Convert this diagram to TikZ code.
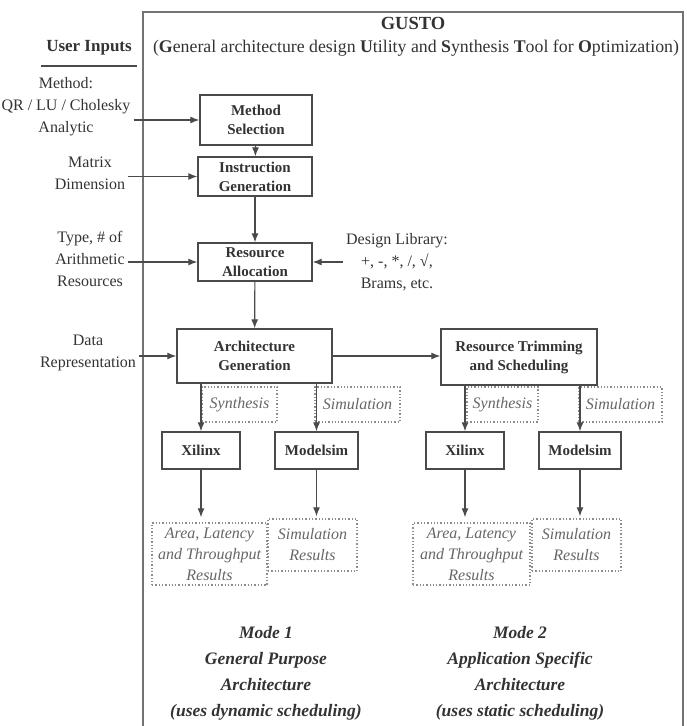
\documentclass[tikz,border=0pt]{standalone}
\usepackage{fontspec}
\setmainfont{Liberation Serif}
\usetikzlibrary{shapes,arrows.meta,positioning}
\definecolor{linegray}{HTML}{4A4A4A}
\definecolor{txtgray}{HTML}{333333}
\definecolor{dotgray}{HTML}{8C8C8C}
\tikzset{
  blk/.style={rectangle,draw=linegray,line width=1.3pt,inner sep=0pt,align=center,
    font=\fontsize{15}{19}\selectfont\bfseries,text=txtgray},
  dotbox/.style={rectangle,draw=dotgray,dotted,line width=1.3pt,inner sep=0pt,align=center,
    font=\fontsize{16}{21}\selectfont\itshape,text=black!60},
  inp/.style={align=center,font=\fontsize{16}{22}\selectfont,text=txtgray,inner sep=3pt},
  arr/.style={-{Latex[length=9pt,width=7pt]},draw=linegray,line width=1.2pt},
  modetext/.style={align=center,font=\fontsize{17.5}{26}\selectfont\bfseries\itshape,text=txtgray}
}
\begin{document}
\begin{tikzpicture}[x=1pt,y=-1pt]
        \useasboundingbox (0,0) rectangle (686,726);
        % outer frame
        \draw[draw=black!55,line width=1.8pt] (143,12) rectangle (683,745);

        % titles
        \node[font=\fontsize{18.5}{22}\selectfont\bfseries,text=txtgray] (title) at (413,23) {GUSTO};
        \node[font=\fontsize{17.8}{20}\selectfont,text=txtgray] (subtitle) at (416,48)
            {(\textbf{G}eneral architecture design \textbf{U}tility and \textbf{S}ynthesis \textbf{T}ool for \textbf{O}ptimization)};
        \node[font=\fontsize{17}{20}\selectfont\bfseries,text=txtgray] (userin) at (89,48) {User Inputs};
        \draw[line width=2.5pt,draw=linegray] ([shift={(-2pt,-7pt)}]userin.south west) -- ([shift={(2pt,-7pt)}]userin.south east);

        % user inputs
        \node[inp] (inmeth) at (66,107) {Method:\\QR / LU / Cholesky\\Analytic};
        \node[inp] (indim) at (90,173) {Matrix\\Dimension};
        \node[inp] (inres) at (90,259) {Type, \# of\\Arithmetic\\Resources};
        \node[inp] (indata) at (88,353) {Data\\Representation};
        \node[inp] (lib) at (397,262) {Design Library:\\+, -, *, /, √,\\Brams, etc.};

        % main flow
        \node[blk,minimum width=112pt,minimum height=50pt] (meth) at (256,120) {Method\\Selection};
        \node[blk,minimum width=114pt,minimum height=39pt] (instr) at (255,176.5) {Instruction\\Generation};
        \node[blk,minimum width=114pt,minimum height=38pt] (alloc) at (255,262) {Resource\\Allocation};
        \node[blk,minimum width=155pt,minimum height=54pt] (archgen) at (254.5,356) {Architecture\\Generation};
        \node[blk,minimum width=156pt,minimum height=56pt] (trim) at (519,357) {Resource Trimming\\and Scheduling};

        % tools
        \node[blk,minimum width=78pt,minimum height=37pt] (xilA) at (201,450.5) {Xilinx};
        \node[blk,minimum width=83pt,minimum height=37pt] (modA) at (316.5,450.5) {Modelsim};
        \node[blk,minimum width=78pt,minimum height=37pt] (xilB) at (465,450.5) {Xilinx};
        \node[blk,minimum width=82pt,minimum height=37pt] (modB) at (580,450.5) {Modelsim};

        % dotted labels and results
        \node[dotbox,minimum width=75pt,minimum height=35pt] (synA) at (239.5,404.5) {Synthesis};
        \node[dotbox,minimum width=85pt,minimum height=35pt] (simA) at (357.5,404.5) {Simulation};
        \node[dotbox,minimum width=71pt,minimum height=35pt] (synB) at (502.5,404.5) {Synthesis};
        \node[dotbox,minimum width=83pt,minimum height=35pt] (simB) at (620.5,404.5) {Simulation};
        \node[dotbox,minimum width=115pt,minimum height=62pt] (areaA) at (209.5,554) {Area, Latency\\and Throughput\\Results};
        \node[dotbox,minimum width=89pt,minimum height=52pt] (resA) at (312.5,545) {Simulation\\Results};
        \node[dotbox,minimum width=117pt,minimum height=62pt] (areaB) at (471.5,554) {Area, Latency\\and Throughput\\Results};
        \node[dotbox,minimum width=89pt,minimum height=52pt] (resB) at (576.5,545) {Simulation\\Results};

        % arrows
        \draw[arr] (inmeth.east |- meth) -- (meth);
        \draw[arr] (indim.east |- instr) -- (instr);
        \draw[arr] (inres.east |- alloc) -- (alloc);
        \draw[arr] (indata.east |- archgen) -- (archgen);
        \draw[arr] (lib.west |- alloc) -- (alloc);
        \draw[arr] (meth) -- (instr);
        \draw[arr] (instr) -- (alloc);
        \draw[arr] (alloc) -- (archgen);
        \draw[arr] (archgen.east) -- (archgen.east -| trim.west);
        \draw[arr] (archgen.south -| xilA) -- (xilA);
        \draw[arr] (archgen.south -| modA) -- (modA);
        \draw[arr] (trim.south -| xilB) -- (xilB);
        \draw[arr] (trim.south -| modB) -- (modB);
        \draw[arr,shorten >=5pt] (xilA) -- (xilA |- areaA.north);
        \draw[arr,shorten >=2pt] (modA) -- (modA |- resA.north);
        \draw[arr,shorten >=5pt] (xilB) -- (xilB |- areaB.north);
        \draw[arr,shorten >=2pt] (modB) -- (modB |- resB.north);

        % modes
        \node[modetext] (modeA) at (266,673) {Mode 1\\General Purpose\\Architecture\\(uses dynamic scheduling)};
        \node[modetext] (modeB) at (520,673) {Mode 2\\Application Specific\\Architecture\\(uses static scheduling)};
    \end{tikzpicture}
\end{document}
